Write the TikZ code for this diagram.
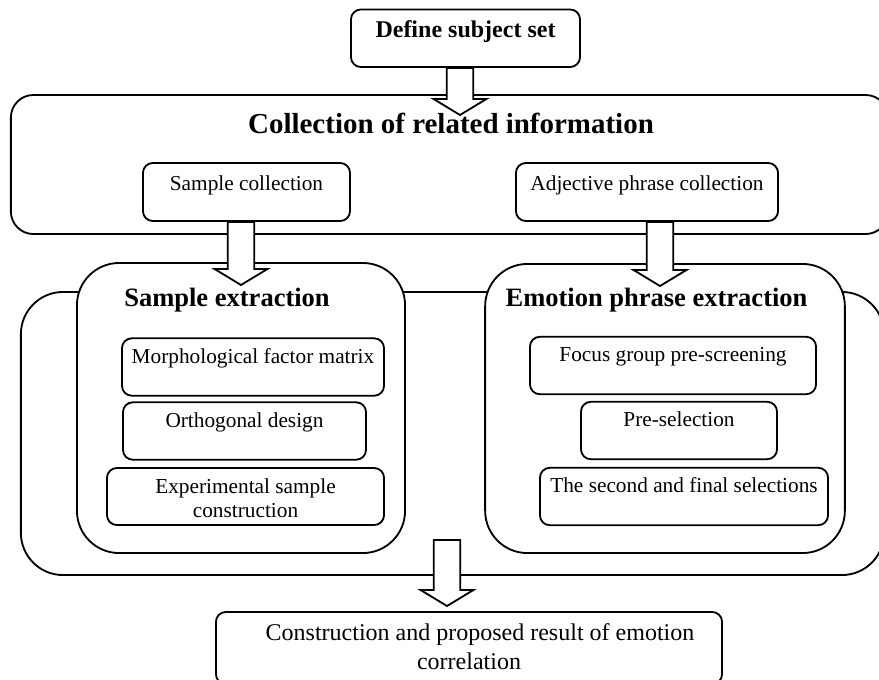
\documentclass[tikz,border=0pt]{standalone}
\usepackage{fontspec}
\setmainfont{Liberation Serif}
\usetikzlibrary{calc,positioning}

\begin{document}
\begin{tikzpicture}[
  x=0.025cm,y=-0.025cm,
  lw/.style={line width=1.3pt},
  box/.style={lw,draw,fill=white,rounded corners=7pt,inner sep=0pt,align=center,font=\fontsize{15.15}{16.5}\selectfont},
  onebox/.style={box,text height=0.625cm,text depth=0.81cm},
  topbox/.style={box,text height=0.675cm,text depth=0.775cm},
  grp/.style={lw,draw,fill=white,rounded corners=30pt,inner sep=0pt},
  head/.style={anchor=base,font=\bfseries\fontsize{18.85}{22}\selectfont},
  fat/.style={lw,draw,fill=white,miter limit=10,to path={let \p1=(\tikztostart),\p2=(\tikztotarget) in
    (\x1-0.33cm,\y1) -- (\x1-0.33cm,\y2+0.4cm) -- (\x1-0.66cm,\y2+0.4cm) -- (\x1,\y2)
    -- (\x1+0.66cm,\y2+0.4cm) -- (\x1+0.33cm,\y2+0.4cm) -- (\x1+0.33cm,\y1) -- cycle}}
]
\useasboundingbox (0,0) rectangle (879,679);

\node[grp,rounded corners=16pt,minimum width=21.925cm,minimum height=3.475cm] (col) at (449.5,164.5) {};
\node[anchor=base,font=\bfseries\fontsize{20.6}{24}\selectfont] (colT) at (451,133) {Collection of related information};
\node[grp,minimum width=21.575cm,minimum height=7.075cm] (ext) at (452.5,433.5) {};
\node[grp,minimum width=8.2cm,minimum height=7.25cm] (smpext) at (241,408) {};
\node[head] (smpT) at (227,306) {Sample extraction};
\node[grp,minimum width=8.99cm,minimum height=7.225cm] (emoext) at (665,408.5) {};
\node[head] (emoT) at (656.5,306) {Emotion phrase extraction};

\node[box,text height=0.6875cm,text depth=0.75cm,minimum width=5.725cm,font=\bfseries\fontsize{17.07}{20}\selectfont] (def) at (465.5,38.25) {Define subject set};
\node[topbox,minimum width=5.175cm] (smpcol) at (246.5,192) {Sample collection};
\node[topbox,minimum width=6.55cm] (adjcol) at (647,192) {Adjective phrase collection};

\node[onebox,minimum width=6.55cm] (morph) at (253,367) {Morphological factor matrix};
\node[onebox,minimum width=6.075cm] (orth) at (244.5,431) {Orthogonal design};
\node[box,text height=1.225cm,text depth=0.2cm,minimum width=6.925cm] (expm) at (245.5,496.5) {Experimental sample\\construction};

\node[onebox,minimum width=7.15cm] (focus) at (673,365.5) {Focus group pre-screening};
\node[onebox,minimum width=4.9cm] (presel) at (679,430.5) {Pre-selection};
\node[onebox,minimum width=7.2cm] (second) at (684,496.5) {The second and final selections};

\node[box,font=\fontsize{17.07}{20}\selectfont,text height=1.425cm,text depth=0.375cm,minimum width=12.65cm] (res) at (469,648) {\hspace*{0.55cm}Construction and proposed result of emotion\\correlation};

\coordinate (a1) at (460,115);
\coordinate (a2) at (241,285);
\coordinate (a3) at (660,286);
\coordinate (a4s) at (447,540);
\coordinate (a4) at (447,606);
\draw[fat] (def.south -| a1) to (a1);
\draw[fat] (smpcol.south -| a2) to (a2);
\draw[fat] (adjcol.south -| a3) to (a3);
\draw[fat] (a4s) to (a4);
\end{tikzpicture}
\end{document}
